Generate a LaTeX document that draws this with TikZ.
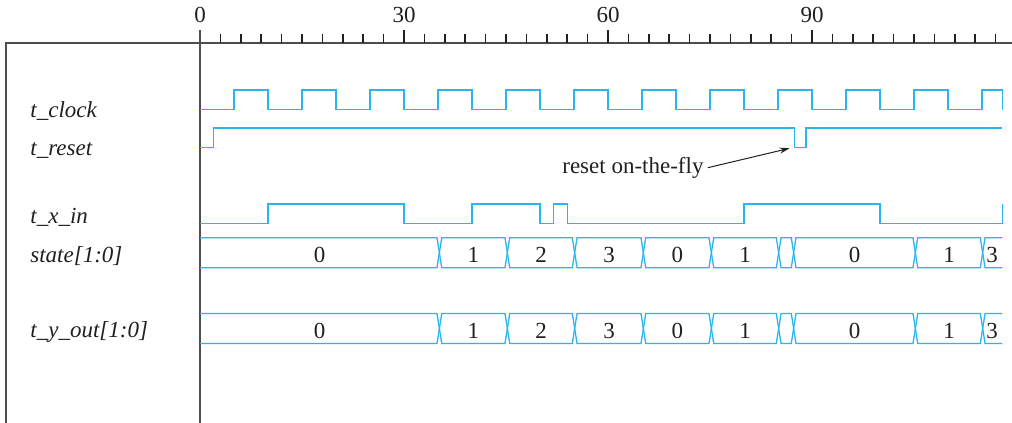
\documentclass[tikz,border=0pt]{standalone}
\usepackage{fontspec}
\setmainfont{Liberation Serif}
\usetikzlibrary{arrows.meta}
\definecolor{tdWave}{HTML}{29B6EC}
\definecolor{tdFrame}{HTML}{4D4D4D}
\definecolor{tdText}{HTML}{231F20}

\begin{document}
\begin{tikzpicture}[x=3.4pt,y=-0.5pt,font=\fontsize{11.5}{13}\selectfont,text=tdText,
    frame/.style={draw=tdFrame,line width=0.8pt},
    tickmark/.style={draw=tdText,line width=0.75pt},
    wave/.style={draw=tdWave,line width=0.65pt},
    signame/.style={anchor=base west,inner sep=0pt,font=\fontsize{11.5}{13}\selectfont\itshape},
    busval/.style={anchor=center,inner sep=0pt},
    ticklabel/.style={anchor=base,inner sep=0pt}
]
  \useasboundingbox (-29.412,0) rectangle (119.412,423);

  % time axis and frame
  \draw[frame] (-28.53,423) -- (-28.53,43) -- (119.412,43);
  \draw[frame] (0,30) -- (0,423);
  \foreach \t in {3,6,...,117} \draw[tickmark] (\t,43) -- (\t,34);
  \foreach \t in {30,60,90} \draw[tickmark] (\t,43) -- (\t,30);
  \foreach \t in {0,30,60,90} \node[ticklabel] (tick\t) at (\t,23) {\t};

  % signal names
  \node[signame] (clk) at (-25,117) {t\_clock};
  \node[signame] (rst) at (-25,155) {t\_reset};
  \node[signame] (xin) at (-25,223) {t\_x\_in};
  \node[signame] (st) at (-25,262) {state[1:0]};
  \node[signame] (yout) at (-25,337) {t\_y\_out[1:0]};

  % clock
  \draw[wave] (0,109.5) \foreach \k in {0,...,10} { -- ({10*\k+5},109.5) -- ({10*\k+5},90) -- ({10*\k+10},90) -- ({10*\k+10},109.5) }
    -- (115,109.5) -- (115,90) -- (118,90) -- (118,109.5);

  % reset with the glitch
  \draw[wave] (0,147.5) -- (2,147.5) -- (2,128) -- (87.4,128) -- (87.4,147.5) -- (89.1,147.5) -- (89.1,128) -- (118,128);
  \node[anchor=base east,inner sep=0pt] (otf) at (74.1,173.3) {reset on-the-fly};
  \coordinate (rstdip) at (86.7,148.3);
  \draw[-{Stealth[length=5pt,width=3pt]},draw=tdText,line width=0.5pt] ([xshift=2pt]otf.east) -- (rstdip);

  % input
  \draw[wave] (0,223.5) -- (10,223.5) -- (10,204) -- (30,204) -- (30,223.5) -- (40,223.5) -- (40,204) -- (50,204) -- (50,223.5)
    -- (52,223.5) -- (52,204) -- (54,204) -- (54,223.5) -- (80,223.5) -- (80,204) -- (100,204) -- (100,223.5) -- (118,223.5) -- (118,204);

  % buses: state and output
  \foreach \m/\r in {252.7/st,328.5/yo} {
    \draw[wave] (0,{\m-15}) -- (34.85,{\m-15}) -- (35.2,\m) -- (34.85,{\m+15}) -- (0,{\m+15});
    \foreach \a/\b in {35.2/45.2,45.2/55.1,55.1/65.2,65.2/75.2,75.2/85.1,85.1/87.3,87.3/105.2,105.2/115.1}
      \draw[wave] (\a,\m) -- ({\a+0.35},{\m-15}) -- ({\b-0.35},{\m-15}) -- (\b,\m) -- ({\b-0.35},{\m+15}) -- ({\a+0.35},{\m+15}) -- cycle;
    \draw[wave] (118,{\m-15}) -- (115.45,{\m-15}) -- (115.1,\m) -- (115.45,{\m+15}) -- (118,{\m+15});
    \foreach \x/\v [count=\i] in {17.6/0,40.2/1,50.15/2,60.15/3,70.2/0,80.15/1,96.25/0,110.15/1,116.5/3}
      \node[busval] (\r\i) at (\x,{\m+2}) {\v};
  }
\end{tikzpicture}
\end{document}
